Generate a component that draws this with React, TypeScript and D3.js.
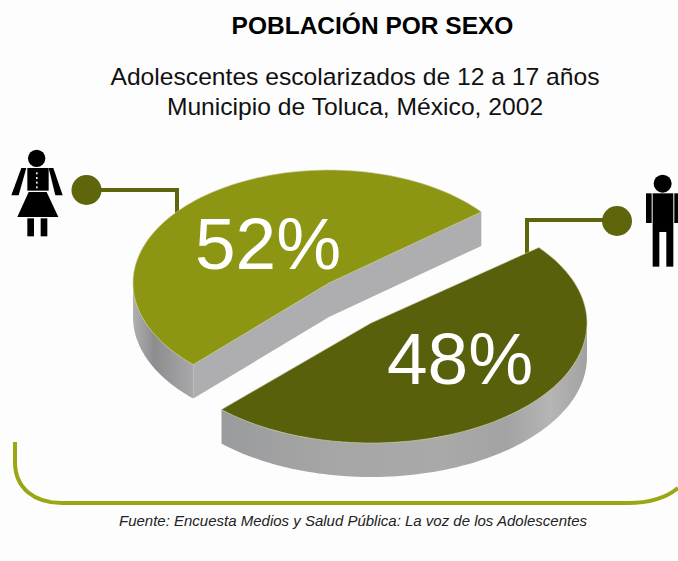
import React from "react";
import * as d3 from "d3";

// Survey shares by sex
const categories = ["Mujeres", "Hombres"];
const shares = [52, 48];
const shareLabels = ["52%", "48%"];
const titleLine = "POBLACIÓN POR SEXO";
const subtitleLines = ["Adolescentes escolarizados de 12 a 17 años", "Municipio de Toluca, México, 2002"];
const sourceLine = "Fuente: Encuesta Medios y Salud Pública: La voz de los Adolescentes";

const WIDTH = 678;
const HEIGHT = 561;
const DEPTH = 34;
const CUT_ANGLE = 39; // degrees above the horizontal, where the first slice starts

// Each exploded slice has its own ellipse in the tilted plane
const ellipses = [
  { cx: 329, cy: 283, rx: 196, ry: 113, face: "#8d9612", wall: "url(#wallA)" },
  { cx: 371, cy: 323, rx: 216, ry: 120, face: "#59600c", wall: "url(#wallB)" },
];

type Pt = [number, number];
const toPath = d3.line<Pt>();

// Pie angles run counter-clockwise on screen from the cut line
const pieLayout = d3
  .pie<number>()
  .sort(null)
  .startAngle((CUT_ANGLE * Math.PI) / 180)
  .endAngle((CUT_ANGLE * Math.PI) / 180 + 2 * Math.PI);
const slices = pieLayout(shares);

function project(i: number, theta: number, drop = 0): Pt {
  const e = ellipses[i];
  return [e.cx + e.rx * Math.cos(theta), e.cy - e.ry * Math.sin(theta) + drop];
}

function arcPoints(i: number, from: number, to: number, drop = 0): Pt[] {
  const steps = 90;
  return d3.range(steps + 1).map((k) => project(i, from + ((to - from) * k) / steps, drop));
}

function centerPoint(i: number, drop = 0): Pt {
  return [ellipses[i].cx, ellipses[i].cy + drop];
}

function facePath(i: number): string {
  const s = slices[i];
  return toPath([centerPoint(i), ...arcPoints(i, s.startAngle, s.endAngle)]) + "Z";
}

// Outer wall: the part of the rim that faces the viewer
function wallPath(i: number): string {
  const s = slices[i];
  const from = Math.max(s.startAngle, Math.PI);
  const to = Math.min(s.endAngle, 2 * Math.PI);
  const top = arcPoints(i, from, to);
  const bottom = arcPoints(i, to, from, DEPTH);
  return toPath([...top, ...bottom]) + "Z";
}

// Cut face below the straight edges of the first slice
function cutPath(i: number): string {
  const s = slices[i];
  const a = project(i, s.endAngle);
  const c = centerPoint(i);
  const b = project(i, s.startAngle);
  return (
    toPath([a, c, b, [b[0], b[1] + DEPTH], [c[0], c[1] + DEPTH], [a[0], a[1] + DEPTH]]) + "Z"
  );
}

function WomanIcon() {
  return (
    <g transform="translate(0,140) scale(0.3333)" fill="#000">
      <circle cx={110} cy={55} r={26} />
      <path d="M82 84H146V152H82Z" />
      <path d="M64 84H79L56 166H34Z" />
      <path d="M146 84H160L188 166H166Z" />
      <path d="M86 156H140L175 231H52Z" />
      <rect x={82} y={235} width={20} height={54} />
      <rect x={122} y={235} width={20} height={54} />
      {[100, 114, 128, 142].map((y) => (
        <rect key={y} x={108} y={y - 3} width={5} height={6} fill="#eee" />
      ))}
    </g>
  );
}

function ManIcon() {
  return (
    <g transform="translate(500,160) scale(0.3333)" fill="#000">
      <circle cx={488} cy={71} r={27} />
      <rect x={458} y={100} width={62} height={116} />
      <rect x={438} y={100} width={17} height={89} />
      <rect x={523} y={100} width={11} height={89} />
      <rect x={458} y={215} width={20} height={105} />
      <rect x={499} y={215} width={21} height={105} />
    </g>
  );
}

export default function App() {
  const sans = "'Liberation Sans', Arial, sans-serif";
  return (
    <svg
      width={WIDTH}
      height={HEIGHT}
      viewBox={`0 0 ${WIDTH} ${HEIGHT}`}
      style={{ position: "absolute", left: 0, top: 0, background: "#fdfdfd" }}
      role="img"
      aria-label={categories.join(", ")}
    >
      <defs>
        <linearGradient id="wallA" x1="0" x2="1" y1="0" y2="0">
          <stop offset="0" stopColor="#b0b0b2" />
          <stop offset="0.35" stopColor="#8d8d8f" />
          <stop offset="1" stopColor="#a8a8aa" />
        </linearGradient>
        <linearGradient id="wallB" x1="0" x2="1" y1="0" y2="0">
          <stop offset="0" stopColor="#9a9b9d" />
          <stop offset="0.3" stopColor="#a6a6a6" />
          <stop offset="0.6" stopColor="#a9a9a9" />
          <stop offset="0.78" stopColor="#a3a3a3" />
          <stop offset="0.9" stopColor="#b5b5b5" />
          <stop offset="1" stopColor="#a2a2a2" />
        </linearGradient>
      </defs>

      <text x={372.5} y={34} textAnchor="middle" fontFamily={sans} fontWeight={700} fontSize={24.5}>
        {titleLine}
      </text>
      {subtitleLines.map((line, i) => (
        <text key={line} x={355} y={85 + i * 30} textAnchor="middle" fontFamily={sans} fontSize={24.65} fill="#111">
          {line}
        </text>
      ))}

      <WomanIcon />
      <ManIcon />

      {/* Leader lines from the markers to each slice */}
      <path d="M86 190H177V222" fill="none" stroke="#5f650a" strokeWidth={4} />
      <path d="M617 220H527V258" fill="none" stroke="#5f650a" strokeWidth={4} />
      <circle cx={86.5} cy={190} r={15} fill="#5f650a" />
      <circle cx={617} cy={221} r={15} fill="#5f650a" />

      {/* Extruded pie */}
      {slices.map((_, i) => (
        <g key={categories[i]}>
          {i === 0 && <path d={cutPath(i)} fill="#aeaeb0" />}
          <path d={wallPath(i)} fill={ellipses[i].wall} />
          <path d={facePath(i)} fill={ellipses[i].face} stroke="#c9cba0" strokeWidth={0.6} />
        </g>
      ))}

      <text x={195} y={269} fontFamily={sans} fontSize={73} fill="#fff">
        {shareLabels[0]}
      </text>
      <text x={387} y={384} fontFamily={sans} fontSize={73} fill="#fff">
        {shareLabels[1]}
      </text>

      {/* Bracket under the chart */}
      <path
        d="M15 442V462C15 488 34 503 62 503H628C650 503 666 498 678 488"
        fill="none"
        stroke="#9aa614"
        strokeWidth={4}
      />

      <text x={353} y={526} textAnchor="middle" fontFamily={sans} fontStyle="italic" fontSize={15} fill="#222">
        {sourceLine}
      </text>
    </svg>
  );
}
